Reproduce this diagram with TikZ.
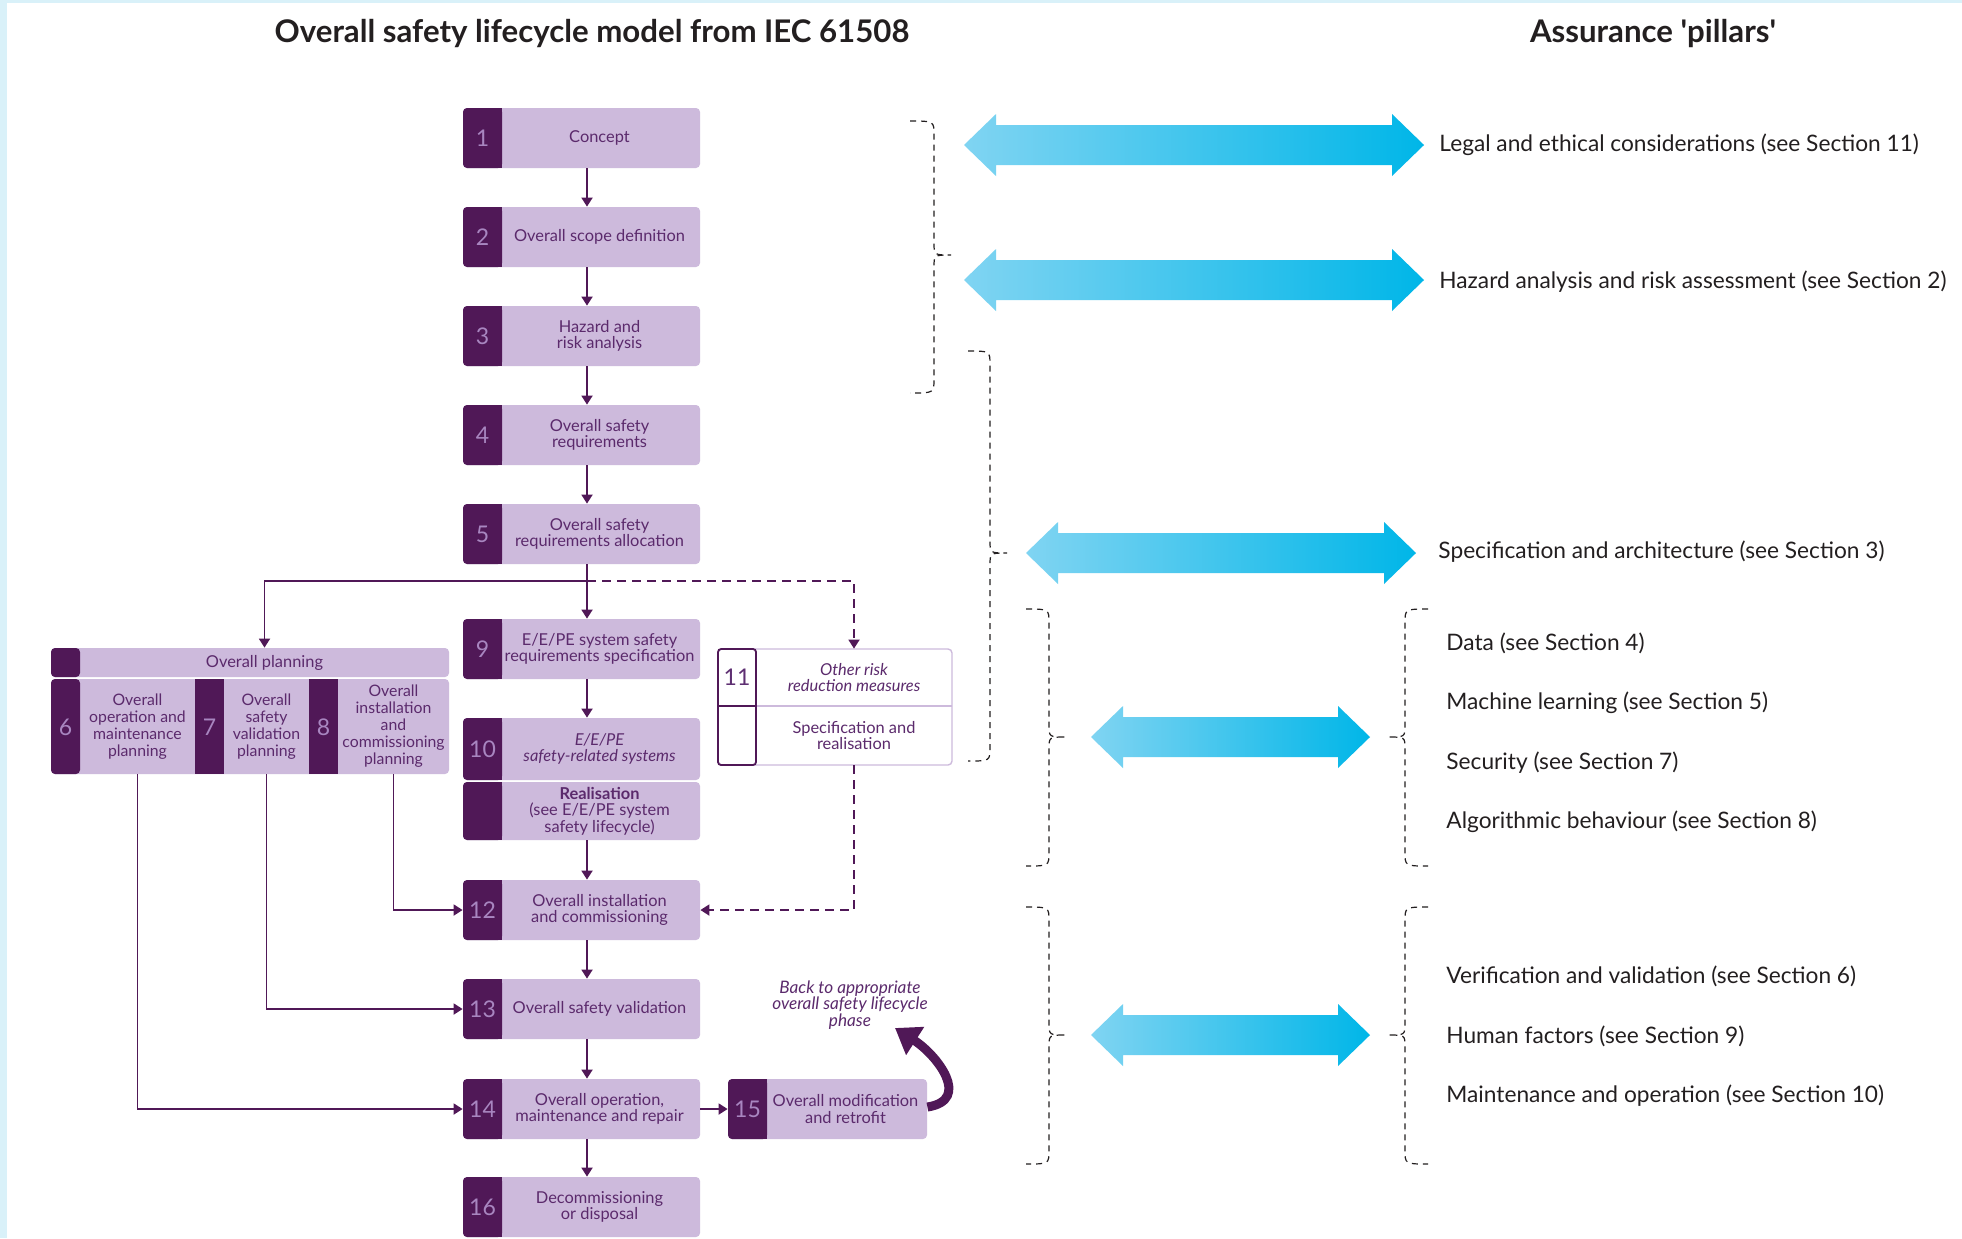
\documentclass[tikz,border=0pt]{standalone}
\usepackage{fontspec}
\setmainfont{Lato}
\usetikzlibrary{arrows.meta,fit,calc}
\definecolor{dp}{HTML}{501857}
\definecolor{lp}{HTML}{CDBADC}
\definecolor{tp}{HTML}{5B2A6C}
\definecolor{np}{HTML}{A886C0}
\definecolor{mp}{HTML}{5E2F72}
\definecolor{lb}{HTML}{D9F1F9}
\definecolor{bla}{HTML}{80D4F2}
\definecolor{blb}{HTML}{2EC3EC}
\definecolor{blc}{HTML}{00B6E8}
\definecolor{txt}{HTML}{231F20}
\tikzset{
  conn/.style={draw=dp, line width=0.9pt, -{Triangle[length=4.5pt,width=5.5pt]}},
  dconn/.style={conn, dash pattern=on 4.5pt off 3pt},
  btxt/.style={font=\fontsize{8.2}{8.3}\selectfont, text=tp, align=center, inner sep=0pt},
  stxt/.style={btxt, font=\fontsize{7.9}{8.5}\selectfont},
  num/.style={font=\fontsize{11.5}{12}\selectfont, text=np, inner sep=0pt},
  title/.style={font=\fontsize{15.6}{17}\selectfont\bfseries, text=txt, inner sep=0pt},
  ptxt/.style={font=\fontsize{11.35}{13}\selectfont, text=txt, inner sep=0pt, anchor=west},
  bracestyle/.style={draw=txt, line width=0.6pt, dash pattern=on 3pt off 2.5pt},
  bgfit/.style={inner sep=0pt}
}
\newcommand\stage[7]{%
  \fill[lp, rounded corners=2pt] (#3,#4) rectangle (#5,#6);
  \fill[dp, rounded corners=2pt] (#3,#4) rectangle ({#3+39},#6);
  \fill[dp] ({#3+20},#4) rectangle ({#3+39},#6);
  \node[bgfit, fit={(#3,#4)(#5,#6)}] (#1) {};
  \node[num] (#1n) at ({#3+19.5},{(#4+#6)/2}) {#2};
  \node[btxt] (#1t) at ({(#3+39+#5)/2-1.5},{(#4+#6)/2}) {#7};
}
\newcommand\bluearrow[3]{%
  \shade[left color=bla, middle color=blb, right color=blc]
    (#1,#3) -- ({#1+32},{#3-31}) -- ({#1+32},{#3-20}) -- ({#2-32},{#3-20})
    -- ({#2-32},{#3-31}) -- (#2,#3) -- ({#2-32},{#3+31}) -- ({#2-32},{#3+20})
    -- ({#1+32},{#3+20}) -- ({#1+32},{#3+31}) -- cycle;
}
\newcommand\dbrace[6]{%
  \draw[bracestyle] (#1,#4) .. controls (#2,#4) .. (#2,{#4+14}) -- (#2,{#5-12})
    .. controls (#2,#5) .. (#3,#5) .. controls (#2,#5) .. (#2,{#5+12})
    -- (#2,{#6-14}) .. controls (#2,#6) .. (#1,#6);
}
\begin{document}
\begin{tikzpicture}[x=0.5pt,y=-0.5pt]
\useasboundingbox (0,0) rectangle (1962,1238);
\fill[lb] (0,0) rectangle (1962,1238);
\fill[white] (7,3) rectangle (1962,1238);

% titles
\node[title] (tl) at (592,34) {Overall safety lifecycle model from IEC 61508};
\node[title] (tr) at (1653,34) {Assurance \textquotesingle pillars\textquotesingle};

% main column
\stage{b1}{1}{463}{108}{700}{168}{Concept}
\stage{b2}{2}{463}{207}{700}{267}{Overall scope definition}
\stage{b3}{3}{463}{306}{700}{366}{Hazard and\\risk analysis}
\stage{b4}{4}{463}{405}{700}{465}{Overall safety\\requirements}
\stage{b5}{5}{463}{504}{700}{564}{Overall safety\\requirements allocation}
\stage{b9}{9}{463}{619}{700}{679}{E/E/PE system safety\\requirements specification}
\stage{b10}{10}{463}{718}{700}{780}{\itshape E/E/PE\\\itshape safety-related systems}
\stage{real}{}{463}{782}{700}{840}{\textbf{Realisation}\\(see E/E/PE system\\safety lifecycle)}
\stage{b12}{12}{463}{880}{700}{940}{Overall installation\\and commissioning}
\stage{b13}{13}{463}{979}{700}{1039}{Overall safety validation}
\stage{b14}{14}{463}{1079}{700}{1139}{Overall operation,\\maintenance and repair}
\stage{b15}{15}{728}{1079}{927}{1139}{Overall modification\\and retrofit}
\stage{b16}{16}{463}{1177}{700}{1237}{Decommissioning\\or disposal}

% overall planning group
\fill[lp, rounded corners=2pt] (51,648) rectangle (449,677);
\fill[lp, rounded corners=2pt] (51,679) rectangle (449,774);
\fill[dp, rounded corners=2pt] (51,648) rectangle (80,677);
\fill[dp, rounded corners=2pt] (51,679) rectangle (80,774);
\fill[dp] (195,679) rectangle (224,774);
\fill[dp] (309,679) rectangle (338,774);
\node[bgfit, fit={(80,648)(449,677)}] (op) {};
\node[bgfit, fit={(80,679)(195,774)}] (p6) {};
\node[bgfit, fit={(224,679)(309,774)}] (p7) {};
\node[bgfit, fit={(338,679)(449,774)}] (p8) {};
\node[btxt] (opt) at (op.center) {Overall planning};
\node[stxt] (p6t) at (p6.center) {Overall\\operation and\\maintenance\\planning};
\node[stxt] (p7t) at (p7.center) {Overall\\safety\\validation\\planning};
\node[stxt] (p8t) at (p8.center) {Overall\\installation\\and\\commissioning\\planning};
\node[num] (p6n) at (65.5,727) {6};
\node[num] (p7n) at (209.5,727) {7};
\node[num] (p8n) at (323.5,727) {8};

% box 11
\draw[lp, line width=0.7pt, fill=white, rounded corners=2pt] (718,649) rectangle (952,765);
\draw[lp, line width=0.7pt] (756,706) -- (952,706);
\draw[dp, line width=0.9pt, rounded corners=1.5pt] (718,649) rectangle (756,765);
\draw[dp, line width=0.9pt] (718,706) -- (756,706);
\node[bgfit, fit={(756,649)(952,706)}] (b11a) {};
\node[bgfit, fit={(756,706)(952,765)}] (b11b) {};
\node[num, text=mp] (b11n) at (737,677.5) {11};
\node[btxt] (b11at) at (b11a.center) {\itshape Other risk\\\itshape reduction measures};
\node[btxt] (b11bt) at (b11b.center) {Specification and\\realisation};

% connectors
\coordinate (ax) at (587,0);
\coordinate (jn) at (587,581);
\draw[conn] (b1.south -| ax) -- (b2.north -| ax);
\draw[conn] (b2.south -| ax) -- (b3.north -| ax);
\draw[conn] (b3.south -| ax) -- (b4.north -| ax);
\draw[conn] (b4.south -| ax) -- (b5.north -| ax);
\draw[conn] (b5.south -| ax) -- (b9.north -| ax);
\draw[conn] (jn) -| (op.north);
\draw[dconn] (jn) -| (b11a.north);
\draw[conn] (b9.south -| ax) -- (b10.north -| ax);
\draw[conn] (real.south -| ax) -- (b12.north -| ax);
\draw[conn] (b12.south -| ax) -- (b13.north -| ax);
\draw[conn] (b13.south -| ax) -- (b14.north -| ax);
\draw[conn] (b14.south -| ax) -- (b16.north -| ax);
\draw[conn] (b14.east) -- (b15.west);
\draw[dconn] (b11b.south) |- (b12.east);
\draw[conn] (p8.south) |- (b12.west);
\draw[conn] (p7.south) |- (b13.west);
\draw[conn] (p6.south) |- (b14.west);
\draw[dp, line width=4.5pt, -{Triangle[length=12pt,width=16pt]}]
  ($(b15.east)+(0,-2)$) .. controls (972,1100) and (937,1055) .. (895,1028);
\node[btxt, font=\fontsize{8.6}{8.3}\selectfont\itshape] (back) at (850,1005)
  {Back to appropriate\\overall safety lifecycle\\phase};

% braces
\dbrace{910}{934}{951}{121}{255}{393}
\dbrace{968}{990}{1007}{351}{553}{761}
\dbrace{1026}{1049}{1066}{609}{737}{866}
\dbrace{1026}{1049}{1066}{907}{1035}{1164}
\dbrace{1428}{1405}{1388}{609}{737}{866}
\dbrace{1428}{1405}{1388}{907}{1035}{1164}

% blue arrows
\bluearrow{964}{1424}{145}
\bluearrow{964}{1424}{280}
\bluearrow{1026}{1416}{553}
\bluearrow{1091}{1370}{737}
\bluearrow{1091}{1370}{1035}

% pillar texts
\node[ptxt] (t1) at (1439,145) {Legal and ethical considerations (see Section 11)};
\node[ptxt] (t2) at (1439,282) {Hazard analysis and risk assessment (see Section 2)};
\node[ptxt] (t3) at (1438,552) {Specification and architecture (see Section 3)};
\node[ptxt] (t4) at (1446,643) {Data (see Section 4)};
\node[ptxt] (t5) at (1446,703) {Machine learning (see Section 5)};
\node[ptxt] (t6) at (1446,763) {Security (see Section 7)};
\node[ptxt] (t7) at (1446,822) {Algorithmic behaviour (see Section 8)};
\node[ptxt] (t8) at (1446,976) {Verification and validation (see Section 6)};
\node[ptxt] (t9) at (1446,1036) {Human factors (see Section 9)};
\node[ptxt] (t10) at (1446,1096) {Maintenance and operation (see Section 10)};
\end{tikzpicture}
\end{document}
